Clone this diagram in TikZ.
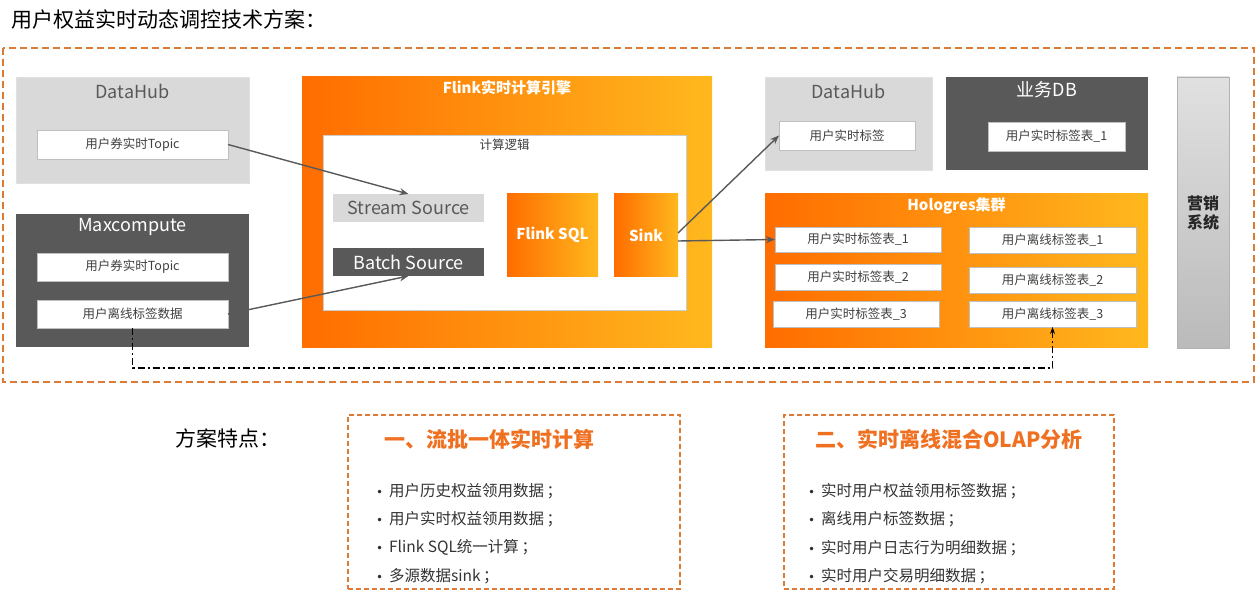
\documentclass[tikz,border=0pt]{standalone}
\usepackage{fontspec}
\setmainfont{Noto Sans CJK SC}
\newfontfamily\dotfont{DejaVu Sans}
\usepackage{xcolor}
\usepackage{tikz}
\usetikzlibrary{arrows.meta}
\definecolor{boxgray}{HTML}{D9D9D9}
\definecolor{slate}{HTML}{595959}
\definecolor{orangeL}{HTML}{FF6D00}
\definecolor{orangeR}{HTML}{FFB81E}
\definecolor{dashorange}{HTML}{DD7A35}
\definecolor{headorange}{HTML}{F07022}

\begin{document}
\begin{tikzpicture}[x=1pt, y=-1pt,
  every node/.style={inner sep=0pt, outer sep=0pt},
  lightbox/.style={fill=boxgray, draw=black!12},
  darkbox/.style={fill=slate},
  hotbox/.style={left color=orangeL, right color=orangeR},
  item/.style={fill=white, draw=black!25, font=\fontsize{12.5}{14}\selectfont, text=black!75},
  head/.style={font=\fontsize{18}{20}\selectfont},
  bhead/.style={font=\bfseries\fontsize{15}{17}\selectfont, text=white},
  link/.style={-{Stealth[length=9pt,width=7pt]}, draw=black!65, line width=1.4pt},
  featbox/.style={draw=dashorange, dashed, line width=1.3pt, dash pattern=on 5pt off 3pt},
  bullet/.style={anchor=west, font=\fontsize{15.5}{17}\selectfont, text=black!80}]
\useasboundingbox (0,0) rectangle (1256,596);
\node[anchor=west, font=\fontsize{21}{23}\selectfont] (maintitle) at (12,20) {用户权益实时动态调控技术方案：};
\draw[dashorange, line width=1.6pt, dash pattern=on 7pt off 4pt] (3,48) rectangle (1254,382);
% sources
\node[lightbox, minimum width=233, minimum height=106] (dhleft) at (132.5,130) {};
\node[head, text=slate] (dhlefttitle) at (132.5,91) {DataHub};
\node[item, minimum width=191, minimum height=29] (dltopic) at (132.5,144.5) {用户券实时Topic};
\node[darkbox, minimum width=233, minimum height=133] (maxc) at (132.5,280.5) {};
\node[head, text=white] (maxctitle) at (132.5,227) {Maxcompute};
\node[item, minimum width=191, minimum height=28] (mctopic) at (132.5,267) {用户券实时Topic};
\node[item, minimum width=191, minimum height=28] (mcoff) at (132.5,314) {用户离线标签数据};
% flink
\node[hotbox, minimum width=410, minimum height=270] (flink) at (507,212) {};
\node[bhead] (flinktitle) at (507,88) {Flink实时计算引擎};
\node[fill=white, draw=black!20, minimum width=363, minimum height=175] (logic) at (504.5,222.5) {};
\node[font=\fontsize{12.5}{14}\selectfont, text=black!75] (logictitle) at (504.5,145) {计算逻辑};
\node[fill=boxgray, head, text=slate, minimum width=151, minimum height=28] (stream) at (408.5,208) {Stream Source};
\node[darkbox, head, text=white, minimum width=151, minimum height=28] (batch) at (408.5,262) {Batch Source};
\node[hotbox, bhead, minimum width=91, minimum height=82] (flinksql) at (552.5,235) {Flink SQL};
\node[hotbox, bhead, minimum width=64, minimum height=82] (sink) at (646,235) {Sink};
% targets
\node[lightbox, minimum width=167, minimum height=93] (dhright) at (848.5,123.5) {};
\node[head, text=slate] (dhrighttitle) at (848.5,91) {DataHub};
\node[item, minimum width=136, minimum height=29] (rtlabel) at (847,135.5) {用户实时标签};
\node[darkbox, minimum width=202, minimum height=93] (bizdb) at (1047,123.5) {};
\node[head, text=white] (bizdbtitle) at (1047,90) {业务DB};
\node[item, minimum width=137, minimum height=29] (dbtable) at (1056.5,136.5) {用户实时标签表\_1};
\node[hotbox, minimum width=383, minimum height=153] (holo) at (956.5,270.5) {};
\node[bhead] (holotitle) at (956.5,206) {Hologres集群};
\node[item, minimum width=166, minimum height=25] (hrt1) at (858,239.5) {用户实时标签表\_1};
\node[item, minimum width=166, minimum height=26] (hrt2) at (858,277) {用户实时标签表\_2};
\node[item, minimum width=166, minimum height=26] (hrt3) at (856,314) {用户实时标签表\_3};
\node[item, minimum width=167, minimum height=26] (hoff1) at (1052.5,240) {用户离线标签表\_1};
\node[item, minimum width=167, minimum height=26] (hoff2) at (1052.5,280) {用户离线标签表\_2};
\node[item, minimum width=167, minimum height=26] (hoff3) at (1052.5,314) {用户离线标签表\_3};
\node[top color=black!12, bottom color=black!27, draw=black!30, minimum width=52, minimum height=271,
  align=center, font=\bfseries\fontsize{16}{19}\selectfont, text=black!85] (market) at (1203,212.5) {营销\\系统};
% links
\draw[link] (dltopic.east) -- (stream.north);
\draw[link] (mcoff.east) -- (batch.south);
\draw[link] ([yshift=2]sink.east) -- (rtlabel.west);
\draw[link] ([yshift=-6]sink.east) -- (hrt1.west);
\draw[-{Stealth[length=7pt,width=5pt]}, line width=1.3pt, dash pattern=on 7pt off 3pt on 2pt off 3pt] (mcoff.south) -- ++(0,40) -| (hoff3.south);
% features
\node[anchor=west, font=\fontsize{21}{23}\selectfont] (featlabel) at (175,438) {方案特点：};
\node[featbox, minimum width=332, minimum height=174] (featA) at (514,502) {};
\node[font=\bfseries\fontsize{21}{23}\selectfont, text=headorange] (featAtitle) at (489,439) {一、流批一体实时计算};
\foreach \txt [count=\i] in {用户历史权益领用数据\,；, 用户实时权益领用数据\,；, Flink SQL统一计算\,；, 多源数据sink\,；}{
  \node[bullet] (featA\i) at (376,462.6+28.4*\i) {{\dotfont\fontsize{12}{12}\selectfont •}\hspace{6pt}\txt};
}
\node[featbox, minimum width=330, minimum height=174] (featB) at (949,502) {};
\node[font=\bfseries\fontsize{21}{23}\selectfont, text=headorange] (featBtitle) at (949,439) {二、实时离线混合OLAP分析};
\foreach \txt [count=\i] in {实时用户权益领用标签数据\,；, 离线用户标签数据\,；, 实时用户日志行为明细数据\,；, 实时用户交易明细数据\,；}{
  \node[bullet] (featB\i) at (808,462.6+28.4*\i) {{\dotfont\fontsize{12}{12}\selectfont •}\hspace{6pt}\txt};
}
\end{tikzpicture}
\end{document}
